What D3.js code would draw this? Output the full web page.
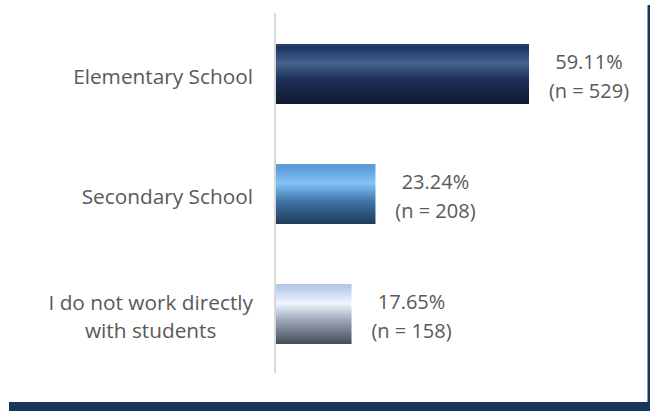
<!DOCTYPE html>
<html>
<head>
<meta charset="utf-8">
<script src="https://cdn.jsdelivr.net/npm/d3@7"></script>
<style>
  body { margin: 0; background: #fff; }
  text { font-family: "Open Sans", sans-serif; fill: #595959; }
</style>
</head>
<body>
<div id="chart"></div>
<script>
var width = 650;
var height = 411;

// data
var categories = ["Elementary School", "Secondary School", "I do not work directly with students"];
var labelLines = [["Elementary School"], ["Secondary School"], ["I do not work directly", "with students"]];
var percents = [59.11, 23.24, 17.65];
var counts = [529, 208, 158];

// gradient stops per bar (top -> bottom)
var gradients = [
  [["0%", "#2b4472"], ["6%", "#1f3563"], ["32%", "#46638f"], ["60%", "#1c2f55"], ["100%", "#0e1930"]],
  [["0%", "#5a9ad6"], ["6%", "#5b9ddb"], ["32%", "#82c3f8"], ["62%", "#3f75a8"], ["100%", "#1f3b58"]],
  [["0%", "#b4c6e6"], ["6%", "#b8cbeb"], ["32%", "#eef6ff"], ["62%", "#9aa3b6"], ["100%", "#454b57"]]
];

var svg = d3.select("#chart").append("svg")
  .attr("width", width)
  .attr("height", height);

var defs = svg.append("defs");
gradients.forEach(function (stops, i) {
  var g = defs.append("linearGradient")
    .attr("id", "grad" + i)
    .attr("x1", 0).attr("y1", 0).attr("x2", 0).attr("y2", 1);
  stops.forEach(function (s) {
    g.append("stop").attr("offset", s[0]).attr("stop-color", s[1]);
  });
});

// scales
var xScale = d3.scaleLinear().domain([0, 70]).range([276, 575.6]);
var yScale = d3.scaleBand().domain(categories).range([14, 374])
  .paddingInner(0.5).paddingOuter(0.25);

// frame bits (bottom band + right edge)
svg.append("rect").attr("x", 9).attr("y", 402).attr("width", width - 9).attr("height", 9).attr("fill", "#1a365f");
svg.append("rect").attr("x", 647.5).attr("y", 5).attr("width", 2.5).attr("height", height - 5).attr("fill", "#1a365f");

// bars
svg.selectAll("rect.bar")
  .data(categories)
  .enter().append("rect")
  .attr("class", "bar")
  .attr("x", xScale(0))
  .attr("y", function (d) { return yScale(d); })
  .attr("width", function (d, i) { return xScale(percents[i]) - xScale(0); })
  .attr("height", yScale.bandwidth())
  .attr("fill", function (d, i) { return "url(#grad" + i + ")"; });

// vertical axis line
svg.append("line")
  .attr("x1", 275).attr("x2", 275)
  .attr("y1", 13).attr("y2", 373)
  .attr("stroke", "#d9d9d9")
  .attr("stroke-width", 2);

// category labels
var labelRight = 253;
categories.forEach(function (c, i) {
  var lines = labelLines[i];
  var cy = yScale(c) + yScale.bandwidth() / 2;
  var lineH = 28;
  var t = svg.append("text")
    .attr("font-size", "20.8px");
  lines.forEach(function (l, j) {
    t.append("tspan")
      .attr("y", cy + 10 - (lines.length - 1) * lineH / 2 + j * lineH)
      .text(l);
  });
  if (lines.length == 1) {
    t.attr("text-anchor", "end").selectAll("tspan").attr("x", labelRight);
  } else {
    // multi-line labels are centered inside their box
    var maxW = 0;
    t.selectAll("tspan").each(function () {
      maxW = Math.max(maxW, this.getComputedTextLength());
    });
    t.attr("text-anchor", "middle").selectAll("tspan").attr("x", labelRight - maxW / 2);
  }
});

// value labels
categories.forEach(function (c, i) {
  var cy = yScale(c) + yScale.bandwidth() / 2;
  var cx = xScale(percents[i]) + 60;
  var t = svg.append("text")
    .attr("font-size", "20px")
    .attr("text-anchor", "middle");
  t.append("tspan").attr("x", cx).attr("y", cy - 5.5).text(percents[i].toFixed(2) + "%");
  t.append("tspan").attr("x", cx).attr("y", cy + 24).text("(n = " + counts[i] + ")");
});
</script>
</body>
</html>
